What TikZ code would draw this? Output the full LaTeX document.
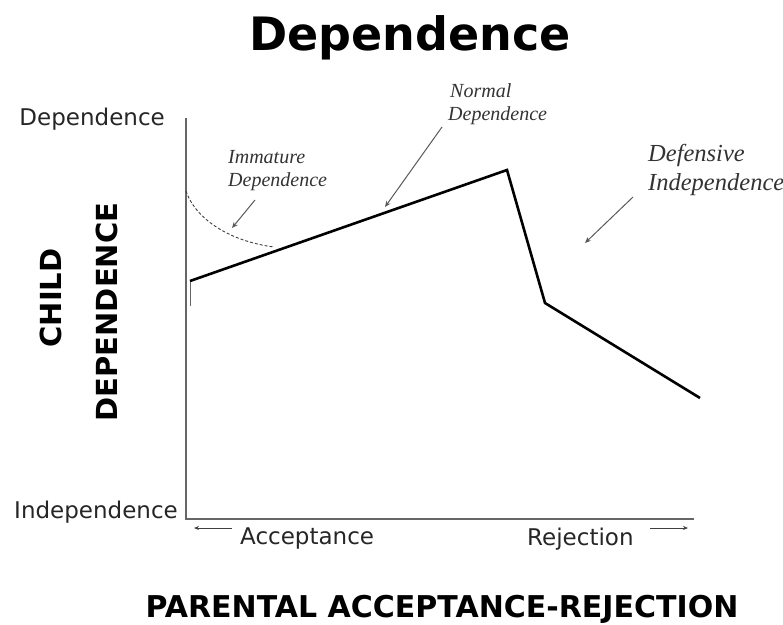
\documentclass[tikz,border=0pt]{standalone}
\usepackage{fontspec}
\setmainfont{DejaVu Sans}
\newfontfamily\itserif{Liberation Serif}
\usetikzlibrary{arrows.meta}
\begin{document}
\begin{tikzpicture}[x=1pt,y=-1pt,
  lbl/.style={inner sep=0pt, anchor=base west, font=\fontsize{23}{26}\selectfont, text=black!85},
  big/.style={inner sep=0pt, font=\bfseries\fontsize{29}{32}\selectfont, text=black},
  itl/.style={inner sep=0pt, anchor=base west, font=\itserif\itshape\fontsize{20}{22}\selectfont, text=black!80},
  itlbig/.style={itl, font=\itserif\itshape\fontsize{24.5}{27}\selectfont},
  ptr/.style={draw=black!65, line width=1pt, -{Stealth[length=6pt,width=5pt]}},
  axis/.style={draw=black!60, line width=1.1pt},
  curve/.style={draw=black, line width=2.6pt, line join=miter},
  dcurve/.style={draw=black!75, line width=0.9pt, dash pattern=on 3pt off 2pt}]
\useasboundingbox (0,0) rectangle (783,624);

% title
\node[inner sep=0pt, anchor=base, font=\bfseries\fontsize{46}{50}\selectfont] (title) at (410,50) {Dependence};

% axes
\coordinate (otop) at (186,118);
\coordinate (orig) at (186,519);
\coordinate (xend) at (694,519);
\draw[axis] (otop) -- (orig) -- (xend);

% axis labels
\node[lbl, anchor=base east] (ydep) at (165,125) {Dependence};
\node[lbl, anchor=base east] (yind) at (178,518) {Independence};
\node[lbl] (acc) at (240,544) {Acceptance};
\node[lbl] (rej) at (527,545) {Rejection};
\coordinate (accA) at (232,528);
\coordinate (accB) at (194,528);
\coordinate (rejA) at (650,528);
\coordinate (rejB) at (688,528);
\draw[draw=black!75, line width=0.9pt, -{Stealth[length=5pt,width=4pt]}] (accA) -- (accB);
\draw[draw=black!75, line width=0.9pt, -{Stealth[length=5pt,width=4pt]}] (rejA) -- (rejB);

\node[big, anchor=base, font=\bfseries\fontsize{30}{32}\selectfont] (xtitle) at (442,617) {PARENTAL ACCEPTANCE-REJECTION};
\node[big, anchor=base, rotate=90] (child) at (61,298) {CHILD};
\node[big, anchor=base, rotate=90] (ydeplong) at (117,312) {DEPENDENCE};

% main curve
\coordinate (p0) at (190,281);
\coordinate (p1) at (507,170);
\coordinate (p2) at (545,303);
\coordinate (p3) at (700,398);
\coordinate (t0) at (190,306);
\draw[axis, line width=0.9pt] (p0) -- (t0);
\draw[curve] (p0) -- (p1) -- (p2) -- (p3);

% dashed immature curve
\coordinate (d0) at (186,191);
\coordinate (d1) at (274,247);
\draw[dcurve] (d0) .. controls (195,218) and (228,241) .. (d1);

% italic labels
\node[itl] (imm1) at (228,163) {Immature};
\node[itl] (imm2) at (228,186) {Dependence};
\node[itl] (nor1) at (450,97) {Normal};
\node[itl] (nor2) at (448,120) {Dependence};
\node[itlbig] (def1) at (648,161) {Defensive};
\node[itlbig] (def2) at (648,190) {Independence};

% pointers
\coordinate (ia) at (255,200);
\coordinate (ib) at (232,228);
\coordinate (na) at (442,127);
\coordinate (nb) at (385,207);
\coordinate (da) at (633,197);
\coordinate (db) at (585,243);
\draw[ptr] (ia) -- (ib);
\draw[ptr] (na) -- (nb);
\draw[ptr] (da) -- (db);
\end{tikzpicture}
\end{document}
